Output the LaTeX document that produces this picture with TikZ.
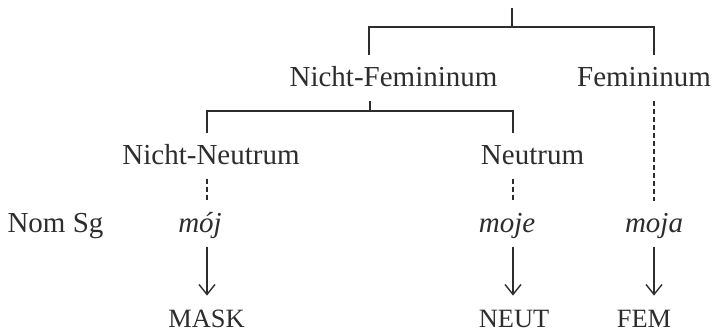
\documentclass[tikz,border=0pt]{standalone}
\usepackage{fontspec}
\setmainfont{Liberation Serif}
\usepackage{tikz}
\usetikzlibrary{arrows.meta}
\definecolor{inkgray}{RGB}{45,45,45}
\tikzset{
  lbl/.style={inner xsep=0pt, inner ysep=3pt, text height=13pt, text depth=3.6pt, anchor=base, text=inkgray, font=\fontsize{14.5}{17}\selectfont},
  caseword/.style={lbl, font=\fontsize{13.2}{16}\selectfont},
  branch/.style={line width=0.7pt, color=inkgray},
  dashln/.style={branch, dash pattern=on 2.5pt off 1.5pt},
  arr/.style={branch, -{Straight Barb[length=5pt, width=8pt]}},
}

\begin{document}
\begin{tikzpicture}[x=0.5pt, y=-0.5pt]
  \useasboundingbox (0,0) rectangle (715,335);
  % columns of the tree
  \coordinate (colA) at (207,0);
  \coordinate (colB) at (369,0);
  \coordinate (colC) at (513,0);
  \coordinate (colD) at (654,0);
  \coordinate (root) at (512,8);
  \coordinate (forkTop) at (512,27);
  \coordinate (forkNF) at (370,111);

  \node[lbl] (nichtfem) at (393.5,87) {Nicht-Femininum};
  \node[lbl] (fem) at (644,87) {Femininum};
  \node[lbl] (nichtneut) at (211,165) {Nicht-Neutrum};
  \node[lbl] (neut) at (532.5,165) {Neutrum};
  \node[lbl] (nomsg) at (55.5,233) {Nom Sg};
  \node[lbl] (moj) at (200,233) {\textit{mój}};
  \node[lbl] (moje) at (507,233) {\textit{moje}};
  \node[lbl] (moja) at (654,233) {\textit{moja}};
  \node[caseword] (mask) at (206.5,328) {MASK};
  \node[caseword] (neutc) at (514,328) {NEUT};
  \node[caseword] (femc) at (644,328) {FEM};

  \draw[branch] (root) -- (forkTop);
  \draw[branch] (nichtfem.north -| colB) |- (forkTop) -| (fem.north -| colD);
  \draw[branch] (nichtfem.south -| forkNF) -- (forkNF);
  \draw[branch] (nichtneut.north -| colA) |- (forkNF) -| (neut.north -| colC);

  \draw[dashln] (nichtneut.south -| colA) -- (moj.north -| colA);
  \draw[dashln] (neut.south -| colC) -- (moje.north -| colC);
  \draw[dashln] (fem.south -| colD) -- (moja.north -| colD);

  \draw[arr] (moj.south -| colA) -- (mask.north -| colA);
  \draw[arr] (moje.south -| colC) -- (neutc.north -| colC);
  \draw[arr] (moja.south -| colD) -- (femc.north -| colD);
\end{tikzpicture}
\end{document}
